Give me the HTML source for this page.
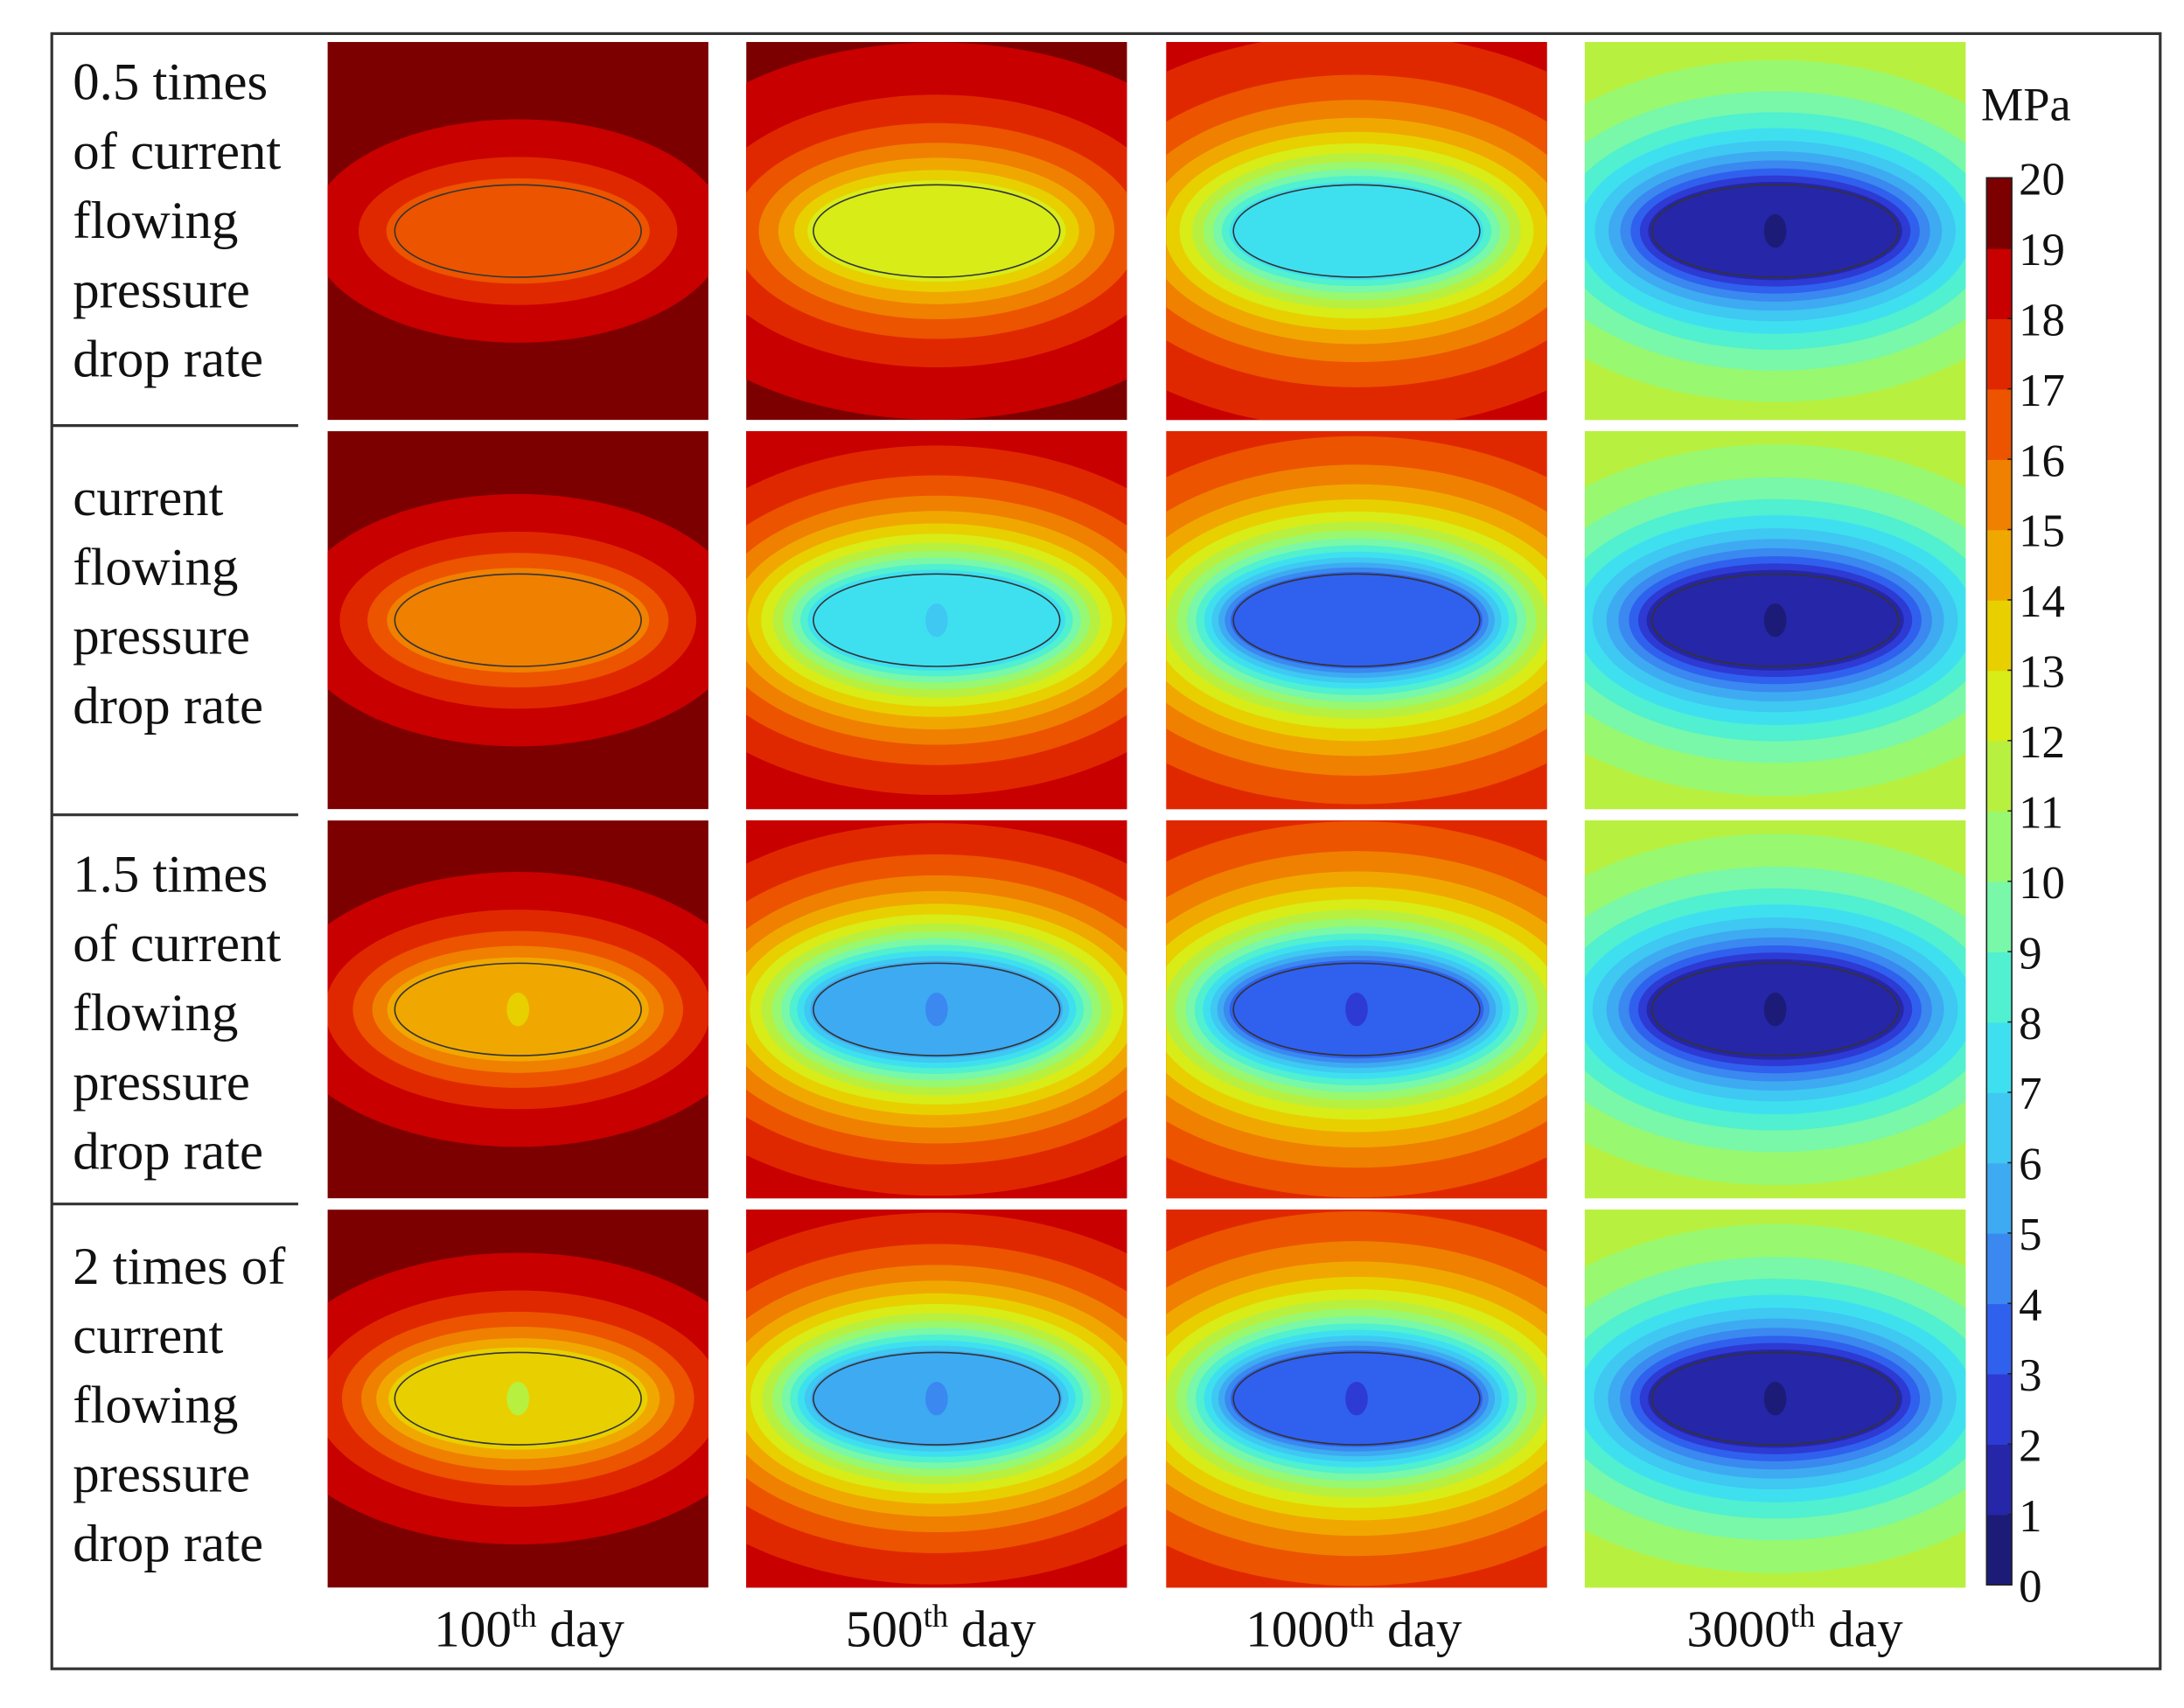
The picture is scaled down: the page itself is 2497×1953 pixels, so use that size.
<!DOCTYPE html>
<html><head><meta charset="utf-8"><style>
html,body{margin:0;padding:0;background:#fff;overflow:hidden;width:2497px;height:1953px;}
svg{display:block;}
text{font-family:"Liberation Serif",serif;fill:#111;}
</style></head><body>
<svg id="fig" width="2497" height="1953" viewBox="0 0 1560 1220" preserveAspectRatio="none" xmlns="http://www.w3.org/2000/svg">
<rect x="37" y="24" width="1506" height="1168" fill="#fff" stroke="#333" stroke-width="2"/>
<g id="panels"></g>
<g font-size="38">
<text x="52" y="71"><tspan x="52">0.5 times</tspan><tspan x="52" dy="49.5">of current</tspan><tspan x="52" dy="49.5">flowing</tspan><tspan x="52" dy="49.5">pressure</tspan><tspan x="52" dy="49.5">drop rate</tspan></text>
<text x="52" y="368"><tspan x="52">current</tspan><tspan x="52" dy="49.5">flowing</tspan><tspan x="52" dy="49.5">pressure</tspan><tspan x="52" dy="49.5">drop rate</tspan></text>
<text x="52" y="637"><tspan x="52">1.5 times</tspan><tspan x="52" dy="49.5">of current</tspan><tspan x="52" dy="49.5">flowing</tspan><tspan x="52" dy="49.5">pressure</tspan><tspan x="52" dy="49.5">drop rate</tspan></text>
<text x="52" y="917"><tspan x="52">2 times of</tspan><tspan x="52" dy="49.5">current</tspan><tspan x="52" dy="49.5">flowing</tspan><tspan x="52" dy="49.5">pressure</tspan><tspan x="52" dy="49.5">drop rate</tspan></text>
</g>
<g stroke="#333" stroke-width="2">
<line x1="37" y1="304" x2="213" y2="304"/><line x1="37" y1="582" x2="213" y2="582"/><line x1="37" y1="860" x2="213" y2="860"/>
</g>
<g font-size="37" text-anchor="middle">
<text x="378" y="1176">100<tspan font-size="23" dy="-14">th</tspan><tspan dy="14"> day</tspan></text>
<text x="672" y="1176">500<tspan font-size="23" dy="-14">th</tspan><tspan dy="14"> day</tspan></text>
<text x="967" y="1176">1000<tspan font-size="23" dy="-14">th</tspan><tspan dy="14"> day</tspan></text>
<text x="1282" y="1176">3000<tspan font-size="23" dy="-14">th</tspan><tspan dy="14"> day</tspan></text>
</g>
<text x="1415" y="86" font-size="34">MPa</text>
<g id="cbar"></g>
</svg>
<script>
// Discrete colormap, one colour per 1 MPa bin (0-1 ... 19-20)
const binColors = ["#1c1c78","#2626a8","#2e3ad4","#3060ee","#3a88f0","#3eaaf2","#3ec8f2","#3ee0f0","#50f0d0","#78f8a8","#98f870","#b8f040","#d8ec18","#e8d000","#f0a800","#f08000","#ec5400","#e02800","#c80000","#7c0000"];
const tickLabels = ["0","1","2","3","4","5","6","7","8","9","10","11","12","13","14","15","16","17","18","19","20"];
const days = ["100","500","1000","3000"];
const rates = ["0.5x","1x","1.5x","2x"];
// Pressure inside the fracture zone (MPa), rows = rates, cols = days
const innerP = [[16.6,12.5,7.5,1.5],[15.5,7.2,3.5,1.3],[14.4,5.5,3.3,1.3],[13.4,5.6,3.5,1.5]];
// Far-field asymptotic pressure (MPa)
const outerP = [[19.9,19.8,19.1,12.6],[19.9,19.7,18.8,12.5],[19.9,19.6,18.7,12.5],[19.9,19.6,18.7,12.5]];
// Well-point pressure (MPa)
const wellP = [[16.6,12.3,7.0,0.8],[15.0,6.5,3.2,0.8],[13.0,4.2,2.5,0.8],[11.5,4.3,2.8,0.9]];
// Diffusion length per time step
const diffLen = [36,46,46,46];

const NS="http://www.w3.org/2000/svg";
const colX=[234,533,833,1132], rowY=[30,308,586,864], PW=272, PH=270;
const A=88, B=33;
function colorOf(p){let i=Math.floor(p);if(i<0)i=0;if(i>19)i=19;return binColors[i];}
function distFor(v,pin,pout,L){return -L*Math.log(1-(v-pin)/(pout-pin));}
function pAt(d,pin,pout,L){return pin+(pout-pin)*(1-Math.exp(-d/L));}

const panels=document.getElementById('panels');
const defs=document.createElementNS(NS,'defs');panels.appendChild(defs);
for(let r=0;r<4;r++){for(let c=0;c<4;c++){
  const x0=colX[c], y0=rowY[r], cx=x0+PW/2, cy=y0+PH/2;
  const pin=innerP[r][c], pout=outerP[r][c], L=diffLen[c];
  const cp=document.createElementNS(NS,'clipPath');cp.setAttribute('id','cp'+r+c);
  const cr=document.createElementNS(NS,'rect');cr.setAttribute('x',x0);cr.setAttribute('y',y0);cr.setAttribute('width',PW);cr.setAttribute('height',PH);
  cp.appendChild(cr);defs.appendChild(cp);
  const g=document.createElementNS(NS,'g');
  
  
  g.setAttribute('clip-path','url(#cp'+r+c+')');
  const dCorner=PH/2*1.2;
  const bg=document.createElementNS(NS,'rect');
  
  
  bg.setAttribute('x',x0);bg.setAttribute('y',y0);bg.setAttribute('width',PW);bg.setAttribute('height',PH);
  bg.setAttribute('fill',colorOf(pAt(dCorner,pin,pout,L)));g.appendChild(bg);
  for(let v=Math.floor(pout);v>pin;v--){
    if(v>=pout)continue;
    const d=distFor(v,pin,pout,L);
    const e=document.createElementNS(NS,'ellipse');
    
    
    e.setAttribute('cx',cx);e.setAttribute('cy',cy);
    e.setAttribute('rx',A+d*1.3);e.setAttribute('ry',B+d*1.0);
    e.setAttribute('fill',colorOf(v-0.5));g.appendChild(e);
  }
  const fz=document.createElementNS(NS,'ellipse');
  
  
  fz.setAttribute('cx',cx);fz.setAttribute('cy',cy);fz.setAttribute('rx',A);fz.setAttribute('ry',B);
  fz.setAttribute('fill',colorOf(pin));fz.setAttribute('stroke','#333');fz.setAttribute('stroke-width','1');g.appendChild(fz);
  const w=document.createElementNS(NS,'ellipse');
  
  
  w.setAttribute('cx',cx);w.setAttribute('cy',cy);
  const wr=Math.floor(wellP[r][c])<Math.floor(pin)?8:2;
  w.setAttribute('rx',wr);w.setAttribute('ry',wr*1.5);
  w.setAttribute('fill',colorOf(wellP[r][c]));g.appendChild(w);
  panels.appendChild(g);
}}

const cb=document.getElementById('cbar');
const cbX=1419,cbW=18,cbTop=127,cbBot=1132;
const yOf=v=>cbBot-(v/20)*(cbBot-cbTop);
binColors.forEach((col,i)=>{
  const rc=document.createElementNS(NS,'rect');
  
  
  rc.setAttribute('x',cbX);rc.setAttribute('y',yOf(i+1));rc.setAttribute('width',cbW);rc.setAttribute('height',yOf(i)-yOf(i+1)+0.5);
  rc.setAttribute('fill',col);cb.appendChild(rc);
});
const fr=document.createElementNS(NS,'rect');


fr.setAttribute('x',cbX);fr.setAttribute('y',cbTop);fr.setAttribute('width',cbW);fr.setAttribute('height',cbBot-cbTop);
fr.setAttribute('fill','none');fr.setAttribute('stroke','#222');fr.setAttribute('stroke-width','1');cb.appendChild(fr);
tickLabels.forEach((t,i)=>{
  const y=yOf(i);
  const tk=document.createElementNS(NS,'line');
  
  
  tk.setAttribute('x1',cbX+cbW-3);tk.setAttribute('x2',cbX+cbW);tk.setAttribute('y1',y);tk.setAttribute('y2',y);
  tk.setAttribute('stroke','#222');cb.appendChild(tk);
  const tx=document.createElementNS(NS,'text');
  
  
  tx.setAttribute('x',cbX+cbW+5);tx.setAttribute('y',y+12);tx.setAttribute('font-size','33');
  tx.textContent=t;cb.appendChild(tx);
});
</script>
</body></html>
